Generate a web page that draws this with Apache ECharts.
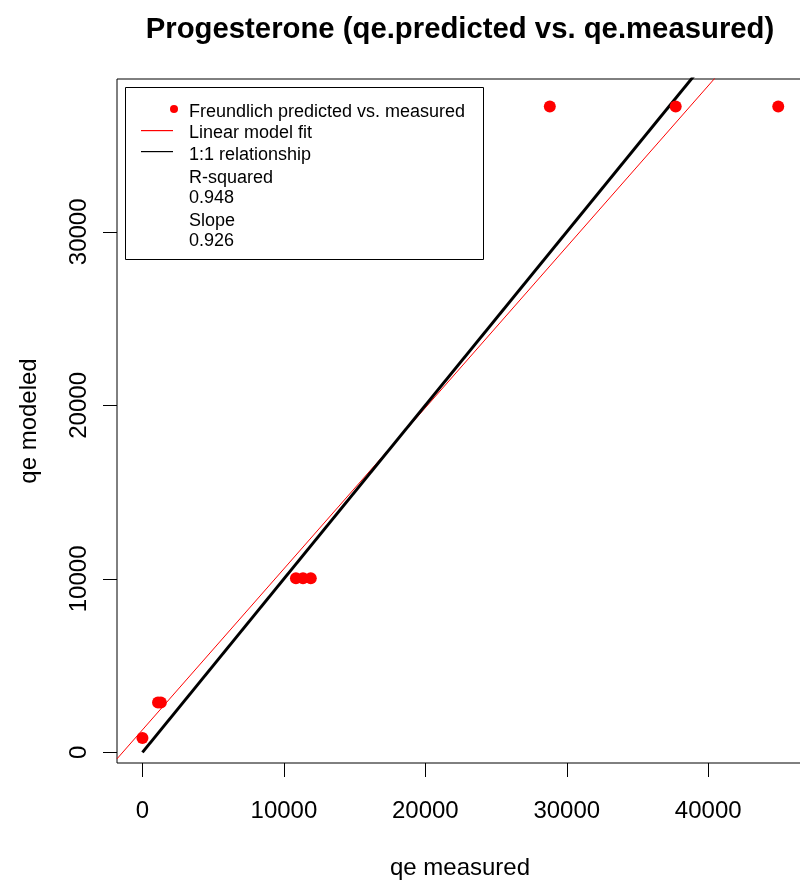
<!DOCTYPE html>
<html>
<head>
<meta charset="utf-8">
<script src="https://cdn.jsdelivr.net/npm/echarts@6/dist/echarts.min.js"></script>
<style>html,body{margin:0;padding:0;background:#fff;}#chart{width:800px;height:885px;}</style>
</head>
<body>
<div id="chart"></div>
<script>
// ---- data ----
var measured = [0, 1100, 1300, 10850, 11350, 11900, 28800, 37700, 44950];
var modeled  = [825, 2870, 2870, 10040, 10040, 10040, 37220, 37220, 37220];
var fitIntercept = 1300;
var fitSlope = 0.928;
var rSquaredText = "0.948";
var slopeText = "0.926";
var xTicks = [0, 10000, 20000, 30000, 40000];
var yTicks = [0, 10000, 20000, 30000];
var xRange = [-1800, 46700];
var yRange = [-611, 38808];
var titleText = "Progesterone (qe.predicted vs. qe.measured)";
var xName = "qe measured";
var yName = "qe modeled";
var legendNames = ["Freundlich predicted vs. measured", "Linear model fit", "1:1 relationship"];

var pts = measured.map(function(x,i){return [x, modeled[i]];});
var fitLine = [[xRange[0], fitIntercept + fitSlope*xRange[0]], [xRange[1], fitIntercept + fitSlope*xRange[1]]];
var mMin = Math.min.apply(null, measured), mMax = Math.max.apply(null, measured);
var oneOne = [[mMin, mMin], [mMax, mMax]];

var FONT = "Liberation Sans, Arial, sans-serif";
var chart = echarts.init(document.getElementById('chart'), null, {renderer:'canvas'});
var gl = 117, gt = 79, gw = 686, gh = 684;

var legendGroup = {
  type: 'group', left: 125, top: 87,
  children: [
    {type:'rect', shape:{x:0.5,y:0.5,width:358,height:172}, style:{fill:'#fff', stroke:'#000', lineWidth:1}},
    {type:'circle', shape:{cx:49, cy:22, r:4}, style:{fill:'#ff0000'}},
    {type:'rect', shape:{x:16,y:43,width:32,height:1.2}, style:{fill:'#ff0000'}},
    {type:'rect', shape:{x:16,y:64,width:32,height:1.2}, style:{fill:'#000000'}},
    {type:'text', x:64, y:25, style:{text:legendNames[0], font:'18px '+FONT, fill:'#000', verticalAlign:'middle'}},
    {type:'text', x:64, y:46, style:{text:legendNames[1], font:'18px '+FONT, fill:'#000', verticalAlign:'middle'}},
    {type:'text', x:64, y:68, style:{text:legendNames[2], font:'18px '+FONT, fill:'#000', verticalAlign:'middle'}},
    {type:'text', x:64, y:91, style:{text:'R-squared', font:'18px '+FONT, fill:'#000', verticalAlign:'middle'}},
    {type:'text', x:64, y:111, style:{text:rSquaredText, font:'18px '+FONT, fill:'#000', verticalAlign:'middle'}},
    {type:'text', x:64, y:134, style:{text:'Slope', font:'18px '+FONT, fill:'#000', verticalAlign:'middle'}},
    {type:'text', x:64, y:154, style:{text:slopeText, font:'18px '+FONT, fill:'#000', verticalAlign:'middle'}}
  ]
};

function plain(v){return String(Math.round(v));}

chart.setOption({
  backgroundColor:'#fff',
  animation:false,
  title:{text:titleText, left:455, top:10, textAlign:'center',
    textStyle:{fontFamily:FONT, fontSize:29.3, fontWeight:'bold', color:'#000'}},
  grid:{left:gl, top:gt, width:gw, height:gh, show:true, borderColor:'#000', borderWidth:1,
    backgroundColor:'transparent', outerBoundsMode:'none', containLabel:false},
  xAxis:{type:'value', min:xRange[0], max:xRange[1], name:xName, nameLocation:'middle', nameGap:93,
    nameTextStyle:{fontFamily:FONT, fontSize:24, color:'#000'},
    axisLine:{show:false, onZero:false}, splitLine:{show:false},
    axisTick:{show:true, inside:false, length:14, customValues:xTicks, lineStyle:{color:'#000', width:1}},
    axisLabel:{customValues:xTicks, formatter:plain, fontFamily:FONT, fontSize:24, color:'#000', margin:36}},
  yAxis:{type:'value', min:yRange[0], max:yRange[1], name:yName, nameLocation:'middle', nameGap:76, nameRotate:90,
    nameTextStyle:{fontFamily:FONT, fontSize:24, color:'#000'},
    axisLine:{show:false, onZero:false}, splitLine:{show:false},
    axisTick:{show:true, inside:false, length:14, customValues:yTicks, lineStyle:{color:'#000', width:1}},
    axisLabel:{customValues:yTicks, formatter:plain, rotate:90, fontFamily:FONT, fontSize:24, color:'#000', margin:26}},
  series:[
    {type:'line', name:legendNames[1], data:fitLine, showSymbol:false, symbol:'none', clip:true,
      lineStyle:{color:'#ff0000', width:1}, z:2},
    {type:'line', name:legendNames[2], data:oneOne, showSymbol:false, symbol:'none', clip:true,
      lineStyle:{color:'#000', width:3}, z:3},
    {type:'scatter', name:legendNames[0], data:pts, symbol:'circle', symbolSize:12,
      itemStyle:{color:'#ff0000', opacity:1}, z:4}
  ],
  graphic:[legendGroup]
});
</script>
</body>
</html>
